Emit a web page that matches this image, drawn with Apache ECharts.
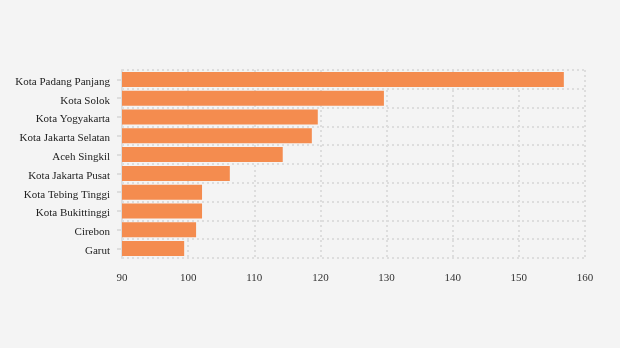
<!DOCTYPE html>
<html><head><meta charset="utf-8">
<script src="https://cdn.jsdelivr.net/npm/echarts@6/dist/echarts.min.js"></script>
<style>html,body{margin:0;padding:0;background:#f4f4f4;}#c{width:620px;height:348px;}</style>
</head><body><div id="c"></div>
<script>
const categories = ["Kota Padang Panjang","Kota Solok","Kota Yogyakarta","Kota Jakarta Selatan","Aceh Singkil","Kota Jakarta Pusat","Kota Tebing Tinggi","Kota Bukittinggi","Cirebon","Garut"];
const values = [156.8,129.6,119.6,118.7,114.3,106.3,102.1,102.1,101.2,99.4];
const xTicks = [90,100,110,120,130,140,150,160];

const chart = echarts.init(document.getElementById('c'));
chart.setOption({
  backgroundColor:'#f4f4f4',
  animation:false,
  textStyle:{fontFamily:'Liberation Serif'},
  grid:{left:122,top:70,width:463,height:188,containLabel:false},
  xAxis:{type:'value',min:xTicks[0],max:xTicks[xTicks.length-1],interval:10,
    axisLine:{show:false},axisTick:{show:false},
    axisLabel:{color:'#333',fontSize:11,fontFamily:'Liberation Serif',margin:15},
    splitLine:{show:true,lineStyle:{color:'#dddddd',width:2,type:[2,3]}}},
  yAxis:{type:'category',data:categories,inverse:true,
    axisLine:{show:true,lineStyle:{color:'#dddddd',width:2}},
    axisTick:{show:true,alignWithLabel:true,length:5,lineStyle:{color:'#dddddd',width:2}},
    axisLabel:{color:'#222',fontSize:11,fontFamily:'Liberation Serif',margin:12,
      formatter:'{a|{value}}',
      rich:{a:{color:'#222',fontSize:11,fontFamily:'Liberation Serif',padding:[5,0,0,0]}}},
    splitLine:{show:true,lineStyle:{color:'#dddddd',width:2,type:[2,3]}}},
  series:[{type:'bar',data:values,barCategoryGap:'20%',itemStyle:{color:'#f48c4f'}}]
});
</script></body></html>
